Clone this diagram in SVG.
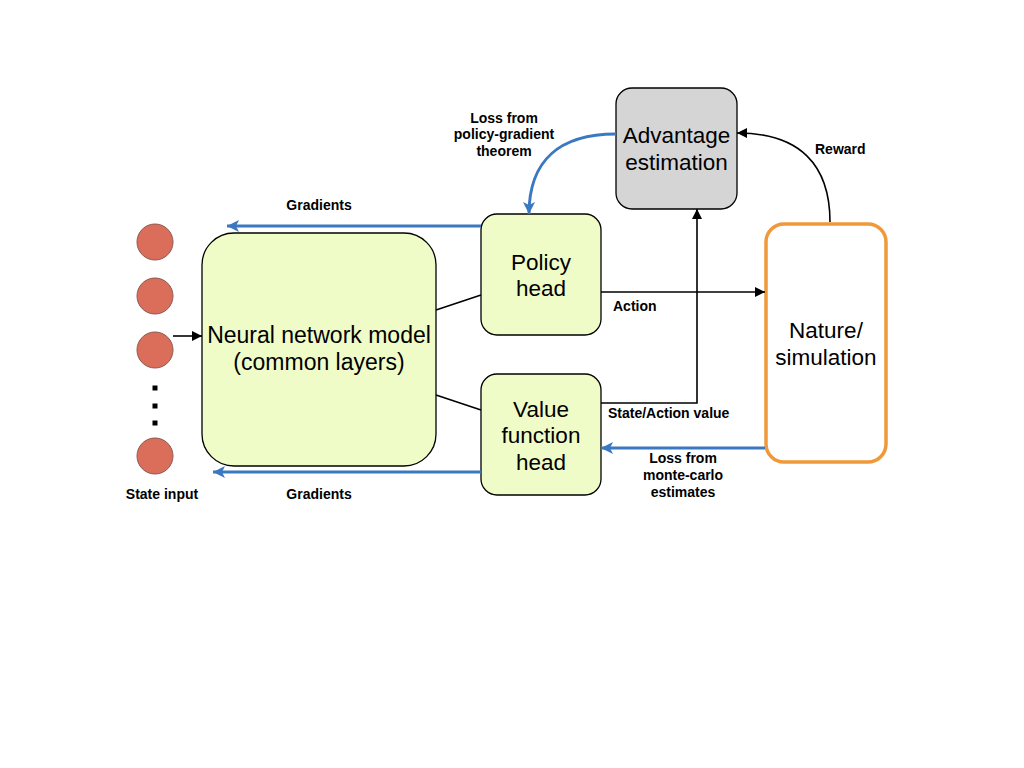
<svg xmlns="http://www.w3.org/2000/svg" width="1024" height="768" viewBox="0 0 1024 768">
<defs>
<style>
.big{font-family:"Liberation Sans",Arial,sans-serif;font-size:22.5px;fill:#000;text-anchor:middle}
.lbl{font-family:"Liberation Sans",Arial,sans-serif;font-size:14px;font-weight:bold;fill:#000}
.mid{text-anchor:middle}
.blk{fill:none;stroke:#000;stroke-width:1.6}
.blu{fill:none;stroke:#3a78c0;stroke-width:3}
.green{fill:#f0fcc8;stroke:#000;stroke-width:1.3}
.node{fill:#db6e5a;stroke:#8a5a50;stroke-width:1}
</style>
<marker id="ab" viewBox="0 0 10 10" refX="10" refY="5" markerWidth="10" markerHeight="10" markerUnits="userSpaceOnUse" orient="auto"><path d="M0,0 L10,5 L0,10 Z" fill="#000"/></marker>
<marker id="au" viewBox="0 0 12 12" refX="12" refY="6" markerWidth="12" markerHeight="12" markerUnits="userSpaceOnUse" orient="auto"><path d="M0,0 L12,6 L0,12 L3,6 Z" fill="#3a78c0"/></marker>
</defs>
<rect width="1024" height="768" fill="#fff"/>
<g id="state-input">
<circle class="node" cx="155" cy="242" r="18"/>
<circle class="node" cx="155" cy="296" r="18"/>
<circle class="node" cx="155" cy="350" r="18"/>
<circle class="node" cx="155" cy="456" r="18"/>
<rect x="152.5" y="385.5" width="5" height="5" fill="#000"/>
<rect x="152.5" y="403.5" width="5" height="5" fill="#000"/>
<rect x="152.5" y="420.5" width="5" height="5" fill="#000"/>
<text class="lbl mid" x="162" y="499">State input</text>
</g>
<g id="neural-network">
<rect class="green" x="202" y="233" width="234" height="233" rx="32"/>
<text class="big" x="319" y="343" style="font-size:23px">Neural network model</text>
<text class="big" x="319" y="370" style="font-size:23px">(common layers)</text>
</g>
<g id="policy-head">
<rect class="green" x="481" y="214" width="120" height="121" rx="16"/>
<text class="big" x="541" y="270">Policy</text>
<text class="big" x="541" y="296">head</text>
</g>
<g id="value-head">
<rect class="green" x="481" y="374" width="120" height="121" rx="16"/>
<text class="big" x="541" y="417">Value</text>
<text class="big" x="541" y="443">function</text>
<text class="big" x="541" y="470">head</text>
</g>
<g id="advantage-estimation">
<rect x="616" y="88" width="121" height="121" rx="16" fill="#d6d5d6" stroke="#000" stroke-width="1.3"/>
<text class="big" x="676.5" y="143">Advantage</text>
<text class="big" x="676.5" y="170">estimation</text>
</g>
<g id="nature-simulation">
<rect x="766" y="224" width="120" height="238" rx="18" fill="#fff" stroke="#f0993a" stroke-width="3.5"/>
<text class="big" x="826" y="338">Nature/</text>
<text class="big" x="826" y="365">simulation</text>
</g>
<g id="connectors">
<path class="blk" d="M173,336 L202,336" marker-end="url(#ab)"/>
<path class="blk" d="M436,310 L481,295"/>
<path class="blk" d="M436,395 L481,410"/>
<path class="blk" d="M601,292 L765,292" marker-end="url(#ab)"/>
<path class="blk" d="M601,403 L697,403 L697,209" marker-end="url(#ab)"/>
<path class="blk" d="M830,222 C830,165 800,133 737,133" marker-end="url(#ab)"/>
<path class="blu" d="M481,226 L227,226" marker-end="url(#au)"/>
<path class="blu" d="M481,472 L213,472" marker-end="url(#au)"/>
<path class="blu" d="M765,448 L601,448" marker-end="url(#au)"/>
<path class="blu" d="M616,134 C560,134 529,160 529,214" marker-end="url(#au)"/>
</g>
<g id="labels">
<text class="lbl mid" x="504" y="123">Loss from</text>
<text class="lbl mid" x="504" y="139">policy-gradient</text>
<text class="lbl mid" x="504" y="156">theorem</text>
<text class="lbl mid" x="319" y="210">Gradients</text>
<text class="lbl mid" x="319" y="499">Gradients</text>
<text class="lbl" x="613" y="311">Action</text>
<text class="lbl" x="608" y="418">State/Action value</text>
<text class="lbl" x="815" y="154">Reward</text>
<text class="lbl mid" x="683" y="463">Loss from</text>
<text class="lbl mid" x="683" y="480">monte-carlo</text>
<text class="lbl mid" x="683" y="497">estimates</text>
</g>
</svg>
